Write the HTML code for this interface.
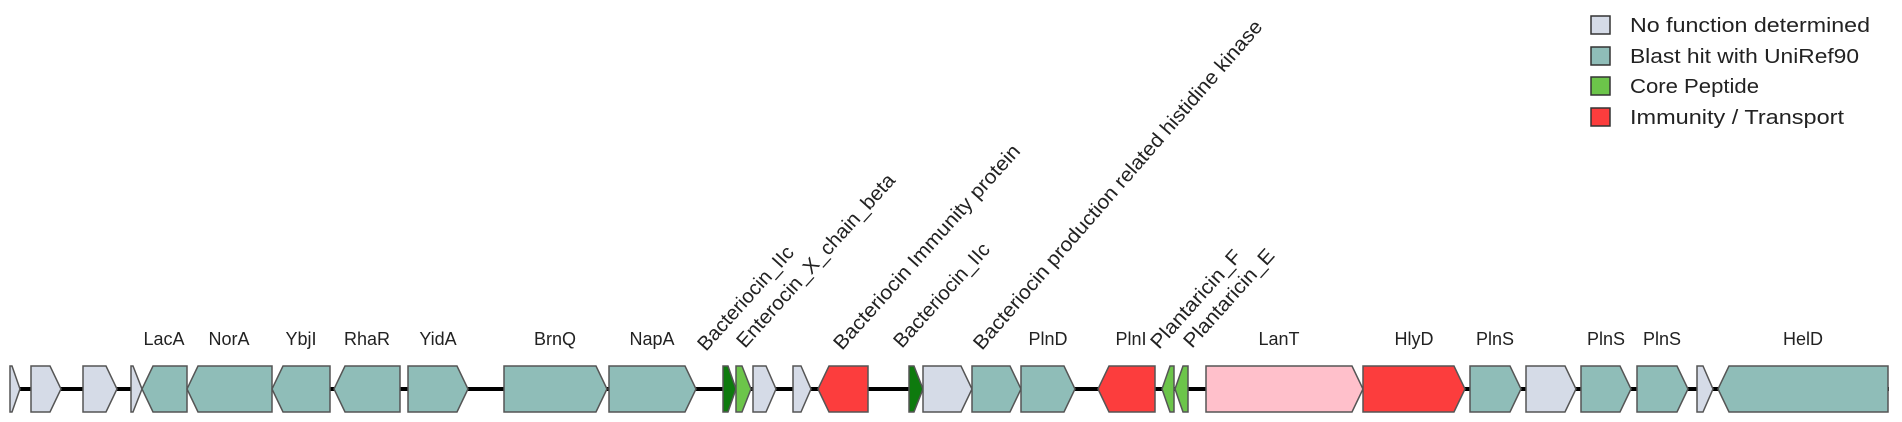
<!DOCTYPE html>
<html><head><meta charset="utf-8"><style>
html,body{margin:0;padding:0;background:#fff;}
svg{display:block;font-family:"Liberation Sans",sans-serif;}
</style></head><body>
<svg width="1902" height="422" viewBox="0 0 1902 422" xmlns="http://www.w3.org/2000/svg">
<line x1="10" y1="389" x2="1889" y2="389" stroke="#000" stroke-width="4"/>
<g stroke="#555" stroke-width="1.5" stroke-linejoin="miter">
<polygon fill="#d5dbe7" points="10,366 12,366 20,389 12,412 10,412"/>
<polygon fill="#d5dbe7" points="31,366 50,366 61,389 50,412 31,412"/>
<polygon fill="#d5dbe7" points="83,366 106,366 117,389 106,412 83,412"/>
<polygon fill="#d5dbe7" points="131,366 133,366 142,389 133,412 131,412"/>
<polygon fill="#8fbdb8" points="187,366 153,366 142,389 153,412 187,412"/>
<polygon fill="#8fbdb8" points="272,366 198,366 187,389 198,412 272,412"/>
<polygon fill="#8fbdb8" points="330,366 283,366 272,389 283,412 330,412"/>
<polygon fill="#8fbdb8" points="400,366 345,366 334,389 345,412 400,412"/>
<polygon fill="#8fbdb8" points="408,366 457,366 468,389 457,412 408,412"/>
<polygon fill="#8fbdb8" points="504,366 596,366 607,389 596,412 504,412"/>
<polygon fill="#8fbdb8" points="609,366 685,366 696,389 685,412 609,412"/>
<polygon fill="#0e7a0e" points="723,366 728,366 736,389 728,412 723,412"/>
<polygon fill="#6cc54a" points="736,366 742,366 751,389 742,412 736,412"/>
<polygon fill="#d5dbe7" points="753,366 766,366 776,389 766,412 753,412"/>
<polygon fill="#d5dbe7" points="793,366 801,366 811,389 801,412 793,412"/>
<polygon fill="#fc3d3d" points="868,366 829,366 818,389 829,412 868,412"/>
<polygon fill="#0e7a0e" points="909,366 914,366 923,389 914,412 909,412"/>
<polygon fill="#d5dbe7" points="923,366 961,366 972,389 961,412 923,412"/>
<polygon fill="#8fbdb8" points="972,366 1010,366 1021,389 1010,412 972,412"/>
<polygon fill="#8fbdb8" points="1021,366 1064,366 1075,389 1064,412 1021,412"/>
<polygon fill="#fc3d3d" points="1155,366 1109,366 1098,389 1109,412 1155,412"/>
<polygon fill="#6cc54a" points="1174,366 1170,366 1162,389 1170,412 1174,412"/>
<polygon fill="#6cc54a" points="1188,366 1183,366 1175,389 1183,412 1188,412"/>
<polygon fill="#ffc0cb" points="1206,366 1352,366 1363,389 1352,412 1206,412"/>
<polygon fill="#fc3d3d" points="1363,366 1454,366 1465,389 1454,412 1363,412"/>
<polygon fill="#8fbdb8" points="1470,366 1510,366 1521,389 1510,412 1470,412"/>
<polygon fill="#d5dbe7" points="1526,366 1565,366 1576,389 1565,412 1526,412"/>
<polygon fill="#8fbdb8" points="1581,366 1620,366 1631,389 1620,412 1581,412"/>
<polygon fill="#8fbdb8" points="1637,366 1677,366 1688,389 1677,412 1637,412"/>
<polygon fill="#d5dbe7" points="1697,366 1703,366 1713,389 1703,412 1697,412"/>
<polygon fill="#8fbdb8" points="1888,366 1729,366 1718,389 1729,412 1888,412"/>
</g>
<g font-size="18" fill="#222" text-anchor="middle">
<text x="164" y="345">LacA</text>
<text x="229" y="345">NorA</text>
<text x="301" y="345">YbjI</text>
<text x="367" y="345">RhaR</text>
<text x="438" y="345">YidA</text>
<text x="555" y="345">BrnQ</text>
<text x="652" y="345">NapA</text>
<text x="1048" y="345">PlnD</text>
<text x="1131" y="345">PlnI</text>
<text x="1279" y="345">LanT</text>
<text x="1414" y="345">HlyD</text>
<text x="1495" y="345">PlnS</text>
<text x="1606" y="345">PlnS</text>
<text x="1662" y="345">PlnS</text>
<text x="1803" y="345">HelD</text>
</g>
<g font-size="20" fill="#222">
<text transform="translate(706,352) rotate(-48)" textLength="133" lengthAdjust="spacingAndGlyphs">Bacteriocin_IIc</text>
<text transform="translate(745,349) rotate(-48)" textLength="226" lengthAdjust="spacingAndGlyphs">Enterocin_X_chain_beta</text>
<text transform="translate(842,351) rotate(-48)" textLength="268" lengthAdjust="spacingAndGlyphs">Bacteriocin Immunity protein</text>
<text transform="translate(902,349) rotate(-48)" textLength="133" lengthAdjust="spacingAndGlyphs">Bacteriocin_IIc</text>
<text transform="translate(982,351) rotate(-49)" textLength="429" lengthAdjust="spacingAndGlyphs">Bacteriocin production related histidine kinase</text>
<text transform="translate(1159,350) rotate(-48)" textLength="125" lengthAdjust="spacingAndGlyphs">Plantaricin_F</text>
<text transform="translate(1192,349) rotate(-48)" textLength="125" lengthAdjust="spacingAndGlyphs">Plantaricin_E</text>
</g>
<g stroke="#333" stroke-width="1.5">
<rect x="1591" y="16" width="19" height="18" fill="#d5dbe7"/>
<rect x="1591" y="47" width="19" height="18" fill="#8fbdb8"/>
<rect x="1591" y="77" width="19" height="18" fill="#6cc54a"/>
<rect x="1591" y="108" width="19" height="18" fill="#fc3d3d"/>
</g>
<g font-size="20" fill="#222">
<text x="1630" y="32" textLength="240" lengthAdjust="spacingAndGlyphs">No function determined</text>
<text x="1630" y="63" textLength="229" lengthAdjust="spacingAndGlyphs">Blast hit with UniRef90</text>
<text x="1630" y="93" textLength="129" lengthAdjust="spacingAndGlyphs">Core Peptide</text>
<text x="1630" y="124" textLength="214" lengthAdjust="spacingAndGlyphs">Immunity / Transport</text>
</g>
</svg>
</body></html>
